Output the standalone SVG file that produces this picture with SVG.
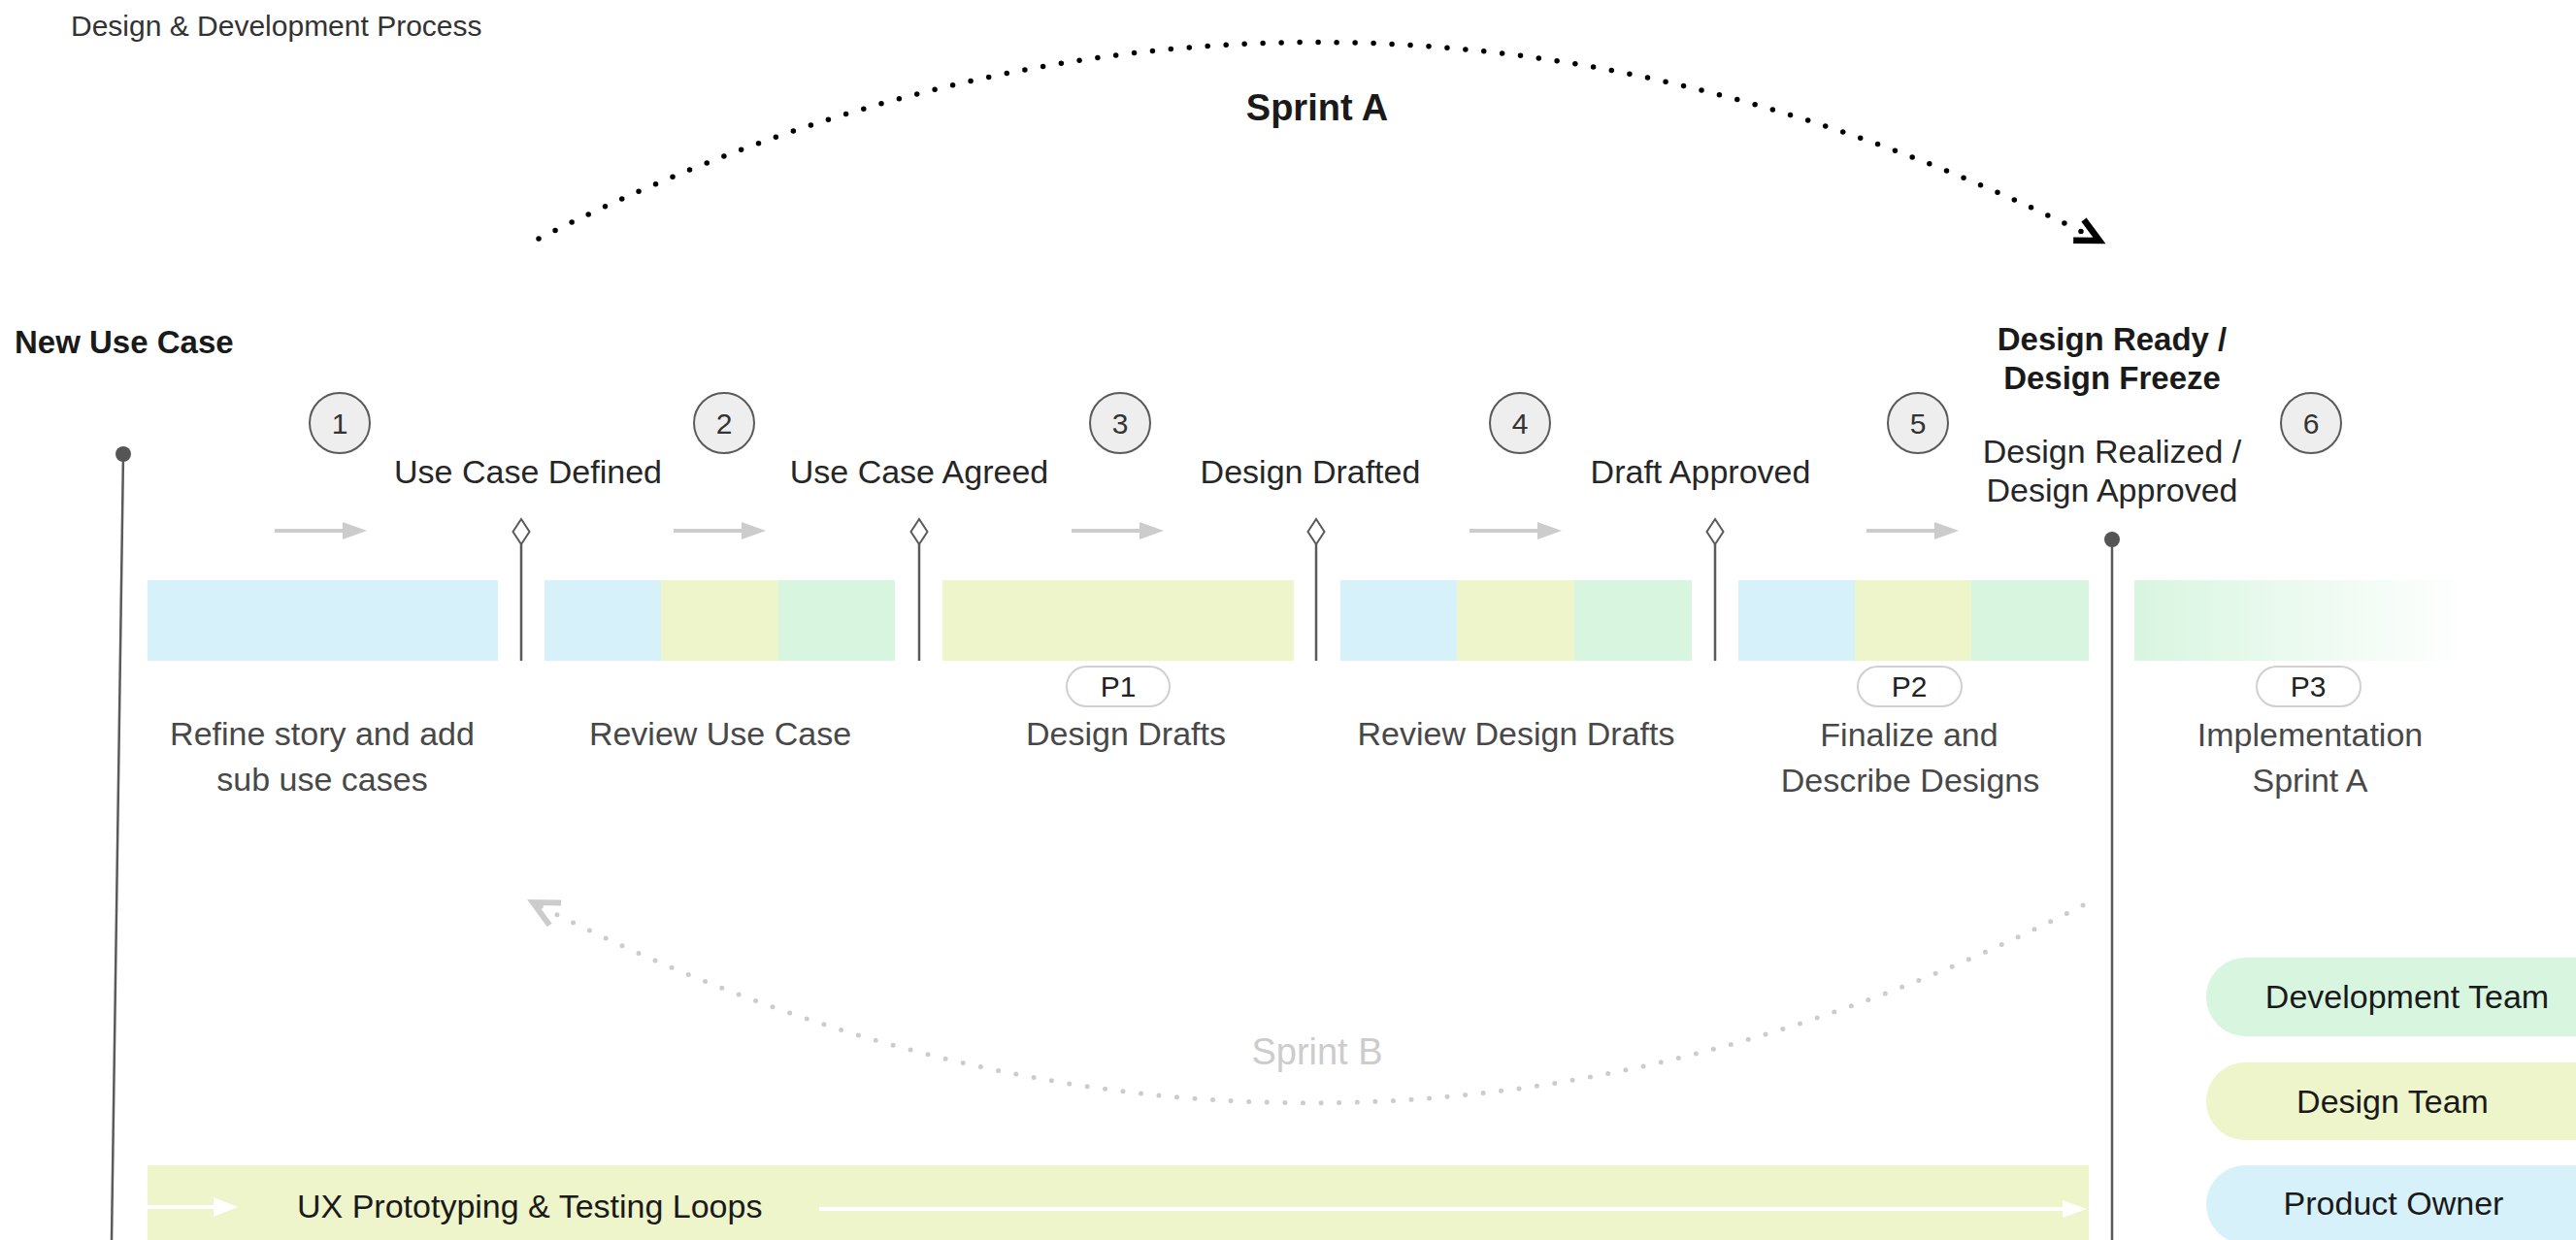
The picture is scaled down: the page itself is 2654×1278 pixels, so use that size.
<svg xmlns="http://www.w3.org/2000/svg" width="2654" height="1278" viewBox="0 0 2654 1278">
<defs>
<style>
text{font-family:"Liberation Sans",Arial,sans-serif}
.title{font-size:30px;fill:#333}
.lbl{font-size:34px;fill:#262626;text-anchor:middle}
.sub{font-size:34px;fill:#484848;text-anchor:middle}
.bold{font-size:33px;font-weight:bold;fill:#1a1a1a}
.num{font-size:30px;fill:#333;text-anchor:middle}
.circ{fill:#eeeeee;stroke:#5a5a5a;stroke-width:2}
.blue{fill:#d6f1f9}
.yel{fill:#eff5ca}
.grn{fill:#d8f5e0}
.ms{stroke:#5a5a5a;stroke-width:2.5;fill:none}
.dia{fill:#fff;stroke:#5a5a5a;stroke-width:2}
.dot{fill:#555}
.step{stroke:#cccccc;stroke-width:4;fill:none}
.stephead{fill:#cccccc}
.pill{fill:#fff;stroke:#d0d0d0;stroke-width:2}
.ptxt{font-size:30px;fill:#222;text-anchor:middle}
.leg{font-size:34px;fill:#1a1a1a;text-anchor:middle}
.wline{stroke:#fff;stroke-width:4;fill:none}
.whead{fill:#fff}
</style>
<linearGradient id="fade" x1="2199" y1="0" x2="2545" y2="0" gradientUnits="userSpaceOnUse">
<stop offset="0" stop-color="#d8f5e0"/>
<stop offset="1" stop-color="#d8f5e0" stop-opacity="0"/>
</linearGradient>
<marker id="headA" markerUnits="userSpaceOnUse" markerWidth="44" markerHeight="44" viewBox="-36 -22 44 44" refX="0" refY="0" orient="auto">
<path d="M-24,-12 L0,0 L-24,12" fill="none" stroke="#000" stroke-width="6.5" stroke-dasharray="none" stroke-linecap="butt" stroke-linejoin="miter"/>
</marker>
<marker id="headB" markerUnits="userSpaceOnUse" markerWidth="44" markerHeight="44" viewBox="-36 -22 44 44" refX="0" refY="0" orient="auto">
<path d="M-26,-13 L0,0 L-26,13" fill="none" stroke="#cccccc" stroke-width="6" stroke-dasharray="none" stroke-linecap="butt"/>
</marker>
</defs>

<rect width="2654" height="1278" fill="#fff"/>

<text class="title" x="73" y="37">Design &amp; Development Process</text>

<g id="connectors">
  <path d="M555,246 Q1358,-160 2163,248" fill="none" stroke="#000" stroke-width="5.5" stroke-linecap="round" stroke-dasharray="0 19" marker-end="url(#headA)"/>
  <path d="M2146,933 Q1347,1342 549,930" fill="none" stroke="#cccccc" stroke-width="5" stroke-linecap="round" stroke-dasharray="0 18.6" marker-end="url(#headB)"/>
  <g id="step-arrows">
    <path class="step" d="M283,547 H356"/><polygon class="stephead" points="353,538 378,547 353,556"/>
    <path class="step" d="M694,547 H767"/><polygon class="stephead" points="764,538 789,547 764,556"/>
    <path class="step" d="M1104,547 H1177"/><polygon class="stephead" points="1174,538 1199,547 1174,556"/>
    <path class="step" d="M1514,547 H1587"/><polygon class="stephead" points="1584,538 1609,547 1584,556"/>
    <path class="step" d="M1923,547 H1996"/><polygon class="stephead" points="1993,538 2018,547 1993,556"/>
  </g>
</g>

<text x="1357" y="124" class="bold" style="font-size:38px" text-anchor="middle">Sprint A</text>
<text x="1357" y="1097" style="font-size:38px;fill:#cccccc" text-anchor="middle">Sprint B</text>

<g id="start">
  <path class="ms" d="M127,468 L115,1278"/>
  <circle class="dot" cx="127" cy="468" r="8"/>
  <text class="bold" x="15" y="364">New Use Case</text>
</g>

<g id="step1">
  <circle class="circ" cx="350" cy="436" r="31"/>
  <text class="num" x="350" y="447">1</text>
  <rect class="blue" x="152" y="598" width="361" height="83"/>
  <text class="sub" x="332" y="768">Refine story and add</text>
  <text class="sub" x="332" y="815">sub use cases</text>
</g>
<g id="milestone1">
  <path class="ms" d="M537,561 V681"/>
  <polygon class="dia" points="537,535 545.5,548 537,561 528.5,548"/>
  <text class="lbl" x="544" y="498">Use Case Defined</text>
</g>

<g id="step2">
  <circle class="circ" cx="746" cy="436" r="31"/>
  <text class="num" x="746" y="447">2</text>
  <rect class="blue" x="561" y="598" width="121" height="83"/>
  <rect class="yel" x="681" y="598" width="122" height="83"/>
  <rect class="grn" x="802" y="598" width="120" height="83"/>
  <text class="sub" x="742" y="768">Review Use Case</text>
</g>
<g id="milestone2">
  <path class="ms" d="M947,561 V681"/>
  <polygon class="dia" points="947,535 955.5,548 947,561 938.5,548"/>
  <text class="lbl" x="947" y="498">Use Case Agreed</text>
</g>

<g id="step3">
  <circle class="circ" cx="1154" cy="436" r="31"/>
  <text class="num" x="1154" y="447">3</text>
  <rect class="yel" x="971" y="598" width="362" height="83"/>
  <rect class="pill" x="1099" y="687" width="106" height="41" rx="20.5"/>
  <text class="ptxt" x="1152" y="718">P1</text>
  <text class="sub" x="1160" y="768">Design Drafts</text>
</g>
<g id="milestone3">
  <path class="ms" d="M1356,561 V681"/>
  <polygon class="dia" points="1356,535 1364.5,548 1356,561 1347.5,548"/>
  <text class="lbl" x="1350" y="498">Design Drafted</text>
</g>

<g id="step4">
  <circle class="circ" cx="1566" cy="436" r="31"/>
  <text class="num" x="1566" y="447">4</text>
  <rect class="blue" x="1381" y="598" width="121" height="83"/>
  <rect class="yel" x="1501" y="598" width="122" height="83"/>
  <rect class="grn" x="1622" y="598" width="121" height="83"/>
  <text class="sub" x="1562" y="768">Review Design Drafts</text>
</g>
<g id="milestone4">
  <path class="ms" d="M1767,561 V681"/>
  <polygon class="dia" points="1767,535 1775.5,548 1767,561 1758.5,548"/>
  <text class="lbl" x="1752" y="498">Draft Approved</text>
</g>

<g id="step5">
  <circle class="circ" cx="1976" cy="436" r="31"/>
  <text class="num" x="1976" y="447">5</text>
  <rect class="blue" x="1791" y="598" width="121" height="83"/>
  <rect class="yel" x="1911" y="598" width="121" height="83"/>
  <rect class="grn" x="2031" y="598" width="121" height="83"/>
  <rect class="pill" x="1914" y="687" width="107" height="41" rx="20.5"/>
  <text class="ptxt" x="1967" y="718">P2</text>
  <text class="sub" x="1967" y="769">Finalize and</text>
  <text class="sub" x="1968" y="816">Describe Designs</text>
</g>

<g id="design-ready">
  <path class="ms" d="M2176,556 V1278"/>
  <circle class="dot" cx="2176" cy="556" r="8"/>
  <text class="bold" x="2176" y="361" text-anchor="middle">Design Ready /</text>
  <text class="bold" x="2176" y="401" text-anchor="middle">Design Freeze</text>
  <text class="lbl" x="2176" y="477">Design Realized /</text>
  <text class="lbl" x="2176" y="517">Design Approved</text>
</g>

<g id="step6">
  <circle class="circ" cx="2381" cy="436" r="31"/>
  <text class="num" x="2381" y="447">6</text>
  <rect x="2199" y="598" width="361" height="83" fill="url(#fade)"/>
  <rect class="pill" x="2325" y="687" width="107" height="41" rx="20.5"/>
  <text class="ptxt" x="2378" y="718">P3</text>
  <text class="sub" x="2380" y="769">Implementation</text>
  <text class="sub" x="2380" y="816">Sprint A</text>
</g>

<g id="ux-loops">
  <rect class="yel" x="152" y="1201" width="2000" height="80"/>
  <path class="wline" d="M152,1244 H224"/>
  <polygon class="whead" points="220,1234 245,1244 220,1254"/>
  <text x="306" y="1255" style="font-size:34px;fill:#1a1a1a">UX Prototyping &amp; Testing Loops</text>
  <path class="wline" d="M844,1246 H2128"/>
  <polygon class="whead" points="2125,1237 2150,1246 2125,1255"/>
</g>

<g id="legend-dev">
  <rect class="grn" x="2273" y="987" width="430" height="81" rx="40.5"/>
  <text class="leg" x="2480" y="1039">Development Team</text>
</g>
<g id="legend-design">
  <rect class="yel" x="2273" y="1095" width="430" height="80" rx="40"/>
  <text class="leg" x="2465" y="1147">Design Team</text>
</g>
<g id="legend-po">
  <rect class="blue" x="2273" y="1201" width="430" height="81" rx="40.5"/>
  <text class="leg" x="2466" y="1252">Product Owner</text>
</g>
</svg>
